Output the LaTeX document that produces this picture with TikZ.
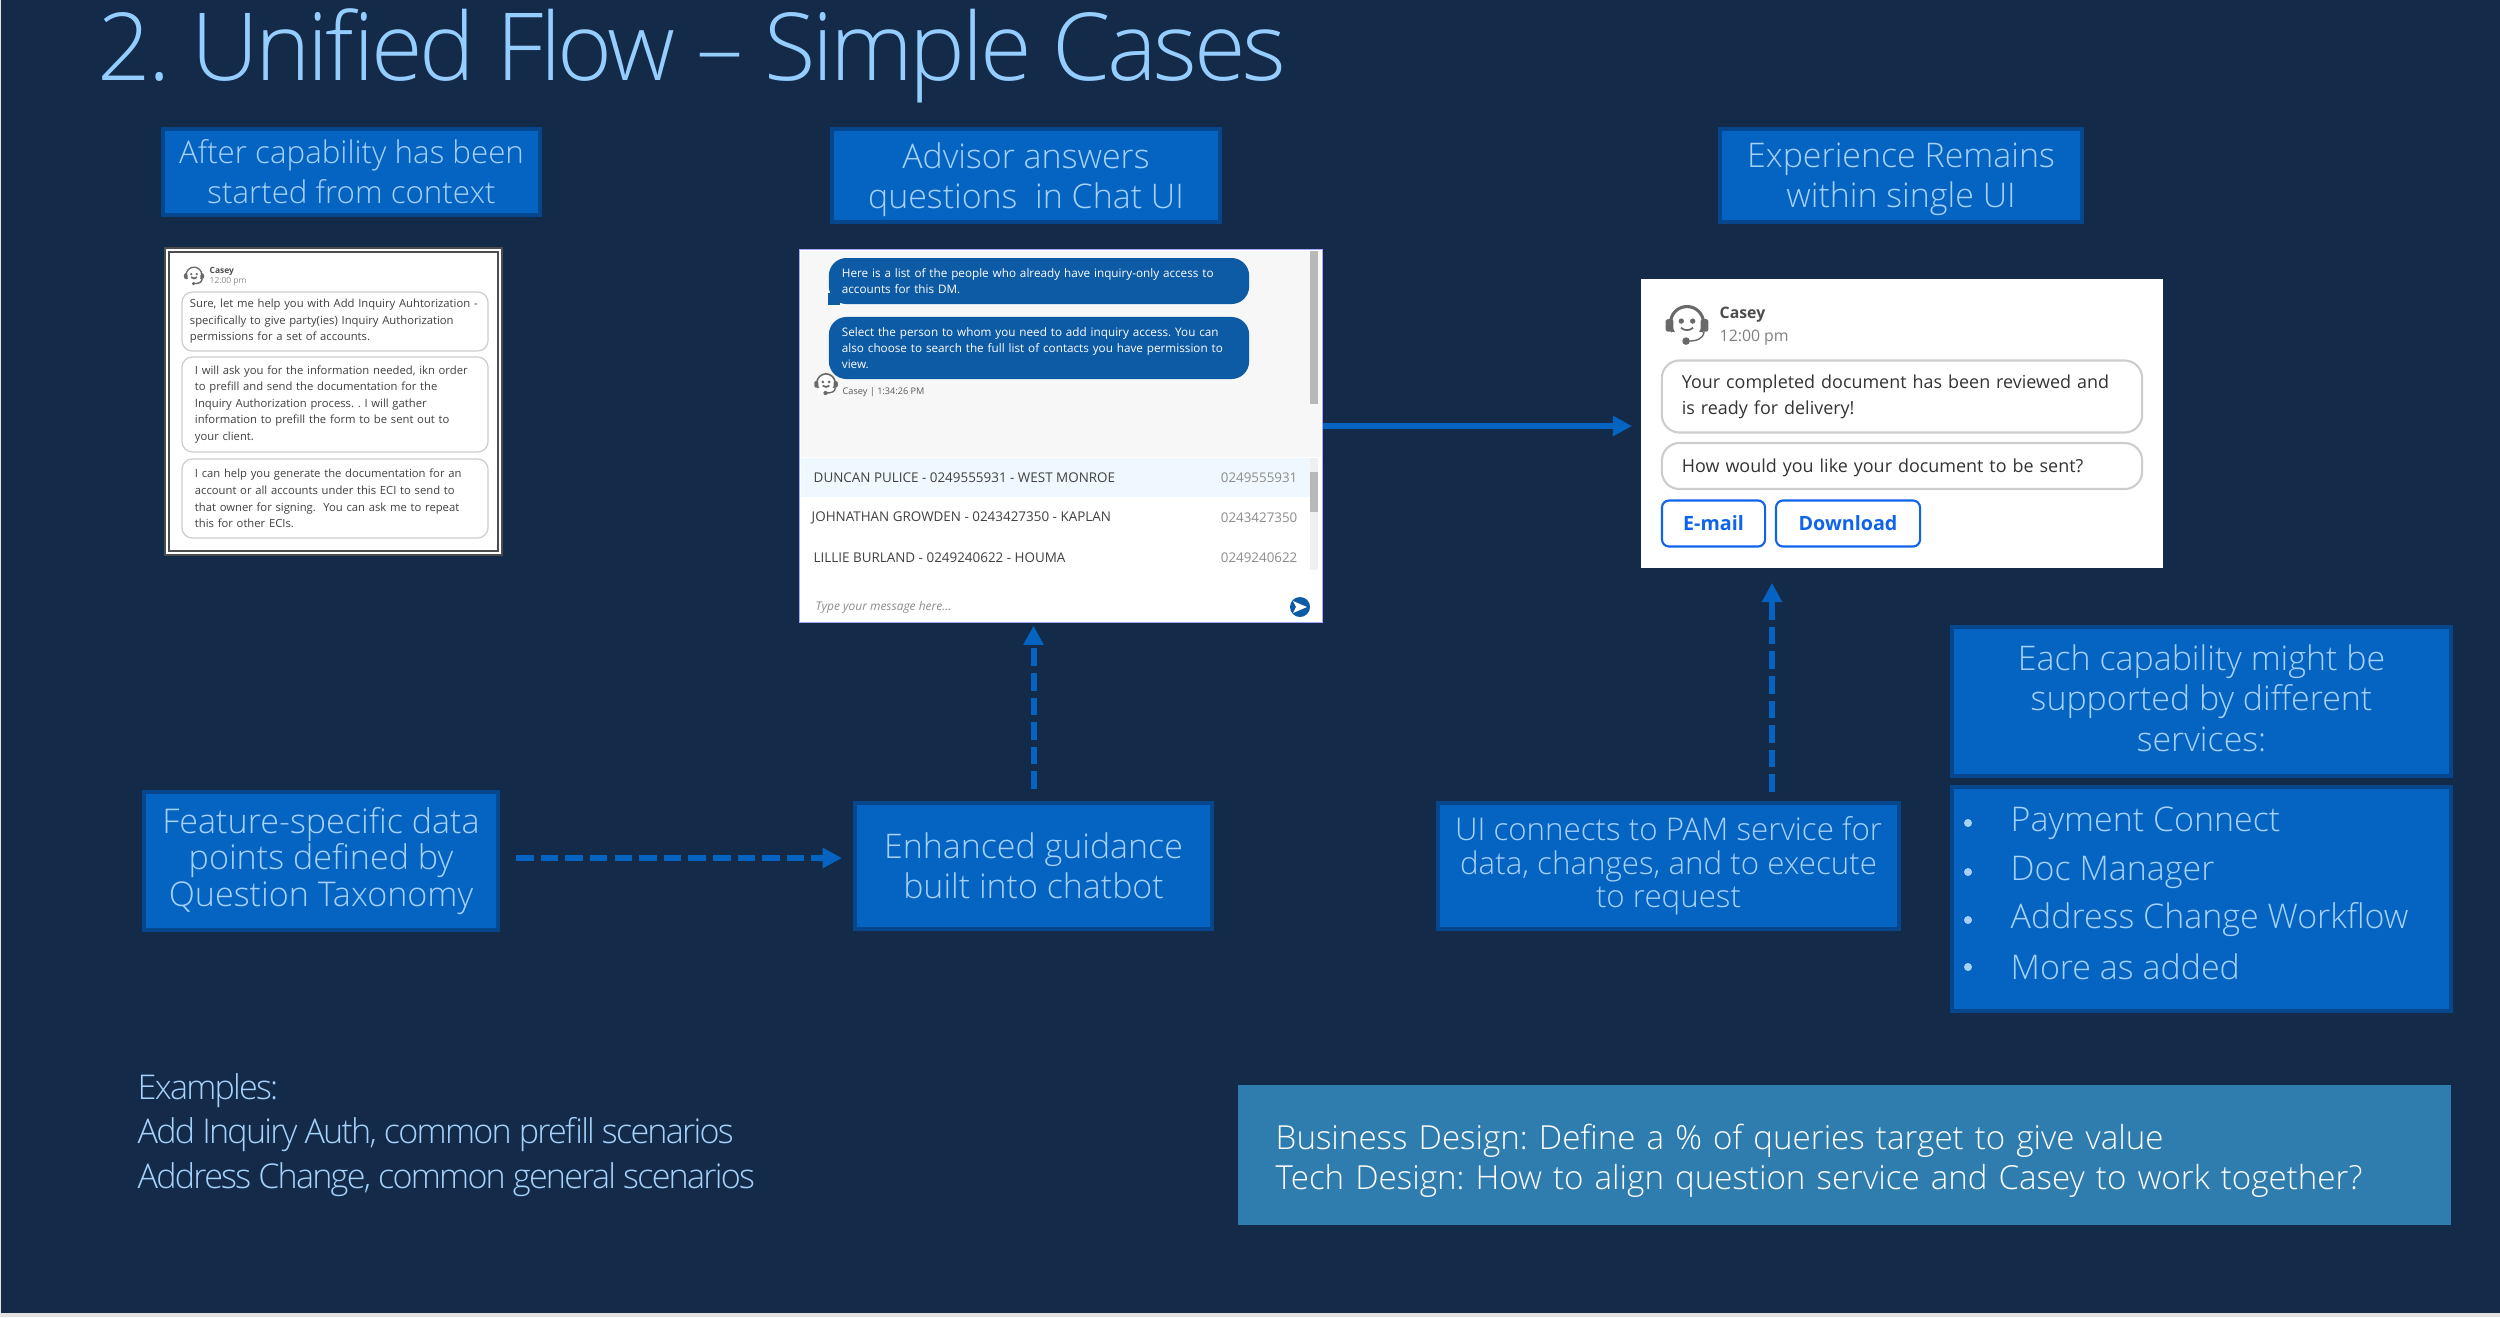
\documentclass[tikz,border=0pt]{standalone}
\usepackage{fontspec}
\setmainfont{Open Sans}[UprightFont=* Light]
\newfontfamily\uifont{Open Sans}
\newfontfamily\tightfont{Open Sans}[UprightFont=* Light,LetterSpace=-5.2]
\newfontfamily\titlefont{Open Sans}[UprightFont=* Light,LetterSpace=-3.6]
\frenchspacing
\usetikzlibrary{arrows.meta,positioning}
\definecolor{slidebg}{RGB}{19,42,73}
\definecolor{slideedge}{RGB}{226,226,226}
\definecolor{boxblue}{RGB}{5,99,193}
\definecolor{boxedge}{RGB}{6,70,140}
\definecolor{boxtext}{RGB}{165,210,250}
\definecolor{titletext}{RGB}{150,205,255}
\definecolor{notefill}{RGB}{47,125,175}
\definecolor{bubbleblue}{RGB}{13,90,165}
\definecolor{rowblue}{RGB}{240,248,255}
\definecolor{uigrey}{RGB}{105,105,105}
\definecolor{uiline}{RGB}{205,205,205}
\definecolor{linkblue}{RGB}{15,100,235}
\tikzset{
 bluebox/.style={draw=boxedge,line width=1.1pt,fill=boxblue,text=boxtext,align=center,inner sep=0pt,font=\fontsize{9.65}{11.3}\selectfont},
 shot/.style={fill=white,inner sep=0pt},
 bubble/.style={draw=uiline,fill=white,rounded corners=3pt,inner ysep=0pt,line width=.35pt,align=left,text=black!75},
 bubblelarge/.style={bubble,line width=.6pt,rounded corners=5pt,minimum width=4.8cm,inner xsep=.2cm,text width=4.4cm,text=black!80},
 chatblue/.style={fill=bubbleblue,rounded corners=5pt,inner ysep=0pt,inner xsep=.13cm,text width=3.94cm,align=left,text=white,font=\uifont\fontsize{3.33}{4.65}\selectfont},
 choice/.style={draw=linkblue,rounded corners=2pt,line width=.6pt,fill=white,text=linkblue,inner sep=0pt,minimum height=.46cm,font=\uifont\bfseries\fontsize{5.6}{5.6}\selectfont},
 flow/.style={-{Triangle[length=5.5pt,width=5.5pt]},draw=boxblue,line width=1.7pt},
 flowdash/.style={flow,dash pattern=on 5pt off 2pt},
 rowtext/.style={anchor=west,inner sep=0pt,text=black!75,font=\uifont\fontsize{3.82}{3.82}\selectfont},
 rownum/.style={anchor=east,inner sep=0pt,text=black!45,font=\uifont\fontsize{3.8}{3.8}\selectfont},
 caseyicon/.pic={
  \fill[uigrey] (0,0) circle[radius=.95];
  \fill[white] (0,0) circle[radius=.78];
  \fill[white] (-.8,.45) rectangle (.8,1);
  \fill[uigrey] (-.3,-.1) circle[radius=.14] (.3,-.1) circle[radius=.14];
  \draw[uigrey,line width=.5pt] (-.32,.25) .. controls (-.1,.42) and (.1,.42) .. (.32,.25);
  \fill[uigrey,rounded corners=.6pt] (-1.12,-.2) rectangle (-.72,.45) (1.12,-.2) rectangle (.72,.45);
  \draw[uigrey,line width=.4pt] (.9,.45) .. controls (.85,.85) and (.5,.95) .. (.05,.95);
  \fill[uigrey] (-.05,.95) circle[radius=.2];
 },
}
\begin{document}
\begin{tikzpicture}[x=0.01cm,y=-0.01cm,>=Latex]
 \useasboundingbox (0,0) rectangle (2500,1317);
 \fill[slideedge] (0,0) rectangle (2500,1317);
 \fill[slidebg] (1,0) rectangle (2500,1313);
 \node[anchor=base west,inner sep=0pt,text=titletext,font=\titlefont\fontsize{26.7}{26.7}\selectfont] (title) at (97,80) {2. Unified Flow – Simple Cases};
 % headings
 \node[bluebox,minimum width=3.77cm,minimum height=.86cm,font=\fontsize{8.9}{11.3}\selectfont] (context) at (351.5,172) {After capability has been\\started from context};
 \node[bluebox,text depth=0pt,minimum width=3.88cm,minimum height=.93cm] (advisor) at (1026,175.5) {Advisor answers\\questions\ \ in Chat UI};
 \node[bluebox,text depth=0pt,minimum width=3.62cm,minimum height=.93cm] (remains) at (1901,175.5) {Experience Remains\\within single UI};
 % first screenshot
 \node[shot,draw=black!70,double=white,double distance=.6pt,line width=.5pt,minimum width=3.33cm,minimum height=3.03cm] (startshot) at (333.5,401.5) {};
 \pic[scale=9] at (194,275) {caseyicon};
 \node[anchor=west,inner sep=0pt,text=black!70,font=\uifont\bfseries\fontsize{2.4}{2.4}\selectfont] (startname) at (209,271) {Casey};
 \node[anchor=west,inner sep=0pt,text=black!45,font=\uifont\fontsize{2.4}{2.4}\selectfont] (starttime) at (209,281) {12:00 pm};
 \node[bubble,inner xsep=.08cm,text width=2.9cm,minimum height=.59cm,font=\uifont\fontsize{3.2}{4.7}\selectfont] (startone) at (335,321.5) {Sure, let me help you with Add Inquiry Auhtorization -\\specifically to give party(ies) Inquiry Authorization\\permissions for a set of accounts.};
 \node[bubble,inner xsep=.13cm,text width=2.8cm,minimum height=.95cm,font=\uifont\fontsize{3.2}{4.7}\selectfont] (starttwo) at (335,404.5) {I will ask you for the information needed, ikn order\\to prefill and send the documentation for the\\Inquiry Authorization process. . I will gather\\information to prefill the form to be sent out to\\your client.};
 \node[bubble,inner xsep=.13cm,text width=2.8cm,minimum height=.79cm,font=\uifont\fontsize{3.2}{4.7}\selectfont] (startthree) at (335,498.5) {I can help you generate the documentation for an\\account or all accounts under this ECI to send to\\that owner for signing.\ \ You can ask me to repeat\\this for other ECIs.};
 % chat screenshot
 \node[shot,draw=blue!35!white,line width=.3pt,minimum width=5.22cm,minimum height=3.72cm] (chatshot) at (1061,436) {};
 \fill[black!3] (801,251) rectangle (1321,457);
 \fill[black!28] (1310,251) rectangle (1318,404);
 \node[chatblue,minimum height=.46cm] (chatone) at (1039,281) {Here is a list of the people who already have inquiry-only access to\\accounts for this DM.};
 \fill[bubbleblue] (chatone.south west) rectangle ++(12,-12);
 \node[chatblue,minimum height=.62cm] (chattwo) at (1039,348) {Select the person to whom you need to add inquiry access. You can\\also choose to search the full list of contacts you have permission to\\view.};
 \pic[scale=10.5] at (826,383) {caseyicon};
 \node[anchor=west,inner sep=0pt,text=black!65,font=\uifont\fontsize{2.6}{2.6}\selectfont] (chatstamp) at (842,392) {Casey | 1:34:26 PM};
 \fill[rowblue] (801,458) rectangle (1310,497);
 \fill[black!6] (1310,458) rectangle (1318,570);
 \fill[black!28] (1310,472) rectangle (1318,512);
 \node[rowtext] (rowduncan) at (813,478) {DUNCAN PULICE - 0249555931 - WEST MONROE};
 \node[rownum] (numduncan) at (1298,478) {0249555931};
 \node[rowtext] (rowjohnathan) at (811,518) {JOHNATHAN GROWDEN - 0243427350 - KAPLAN};
 \node[rownum] (numjohnathan) at (1298,518) {0243427350};
 \node[rowtext] (rowlillie) at (813,558) {LILLIE BURLAND - 0249240622 - HOUMA};
 \node[rownum] (numlillie) at (1298,558) {0249240622};
 \node[anchor=west,inner sep=0pt,text=black!45,font=\uifont\itshape\fontsize{3.4}{3.4}\selectfont] (typehere) at (815,607) {Type your message here...};
 \fill[bubbleblue] (1300,607) circle[radius=10];
 \fill[white] (1293,601) -- (1307,607) -- (1293,613) -- (1296,607) -- cycle;
 % delivery screenshot
 \node[shot,minimum width=5.22cm,minimum height=2.89cm] (deliveryshot) at (1902,423.5) {};
 \pic[scale=19] at (1687,323) {caseyicon};
 \node[anchor=west,inner sep=0pt,text=black!70,font=\uifont\bfseries\fontsize{4.5}{4.5}\selectfont] (deliveryname) at (1719,315) {Casey};
 \node[anchor=west,inner sep=0pt,text=black!50,font=\uifont\fontsize{4.5}{4.5}\selectfont] (deliverytime) at (1719,338) {12:00 pm};
 \node[bubblelarge,minimum height=.72cm,font=\uifont\fontsize{5.1}{7.45}\selectfont] (reviewed) at (1902,396.5) {Your completed document has been reviewed and\\is ready for delivery!};
 \node[bubblelarge,text depth=0pt,minimum height=.46cm,font=\uifont\fontsize{5.1}{5.1}\selectfont] (howsent) at (1902,466) {How would you like your document to be sent?};
 \node[choice,minimum width=1.03cm] (email) at (1713.5,523.5) {E-mail};
 \node[choice,minimum width=1.44cm] (download) at (1848,523.5) {Download};
 % lower row
 \node[bluebox,minimum width=3.54cm,minimum height=1.38cm,font=\fontsize{9.7}{10.4}\selectfont] (feature) at (321,861) {Feature-specific data\\points defined by\\Question Taxonomy};
 \node[bluebox,minimum width=3.57cm,minimum height=1.26cm] (guidance) at (1033.5,866) {Enhanced guidance\\built into chatbot};
 \node[bluebox,minimum width=4.61cm,minimum height=1.26cm,font=\fontsize{8.9}{9.5}\selectfont] (connects) at (1668.5,866) {UI connects to PAM service for\\data, changes, and to execute\\to request};
 \node[bluebox,text depth=2pt,minimum width=4.99cm,minimum height=1.49cm,font=\fontsize{9.65}{11.5}\selectfont] (services) at (2201.5,701.5) {Each capability might be\\supported by different\\services:};
 \node[bluebox,minimum width=4.99cm,minimum height=2.24cm] (servicelist) at (2201.5,899) {};
 \foreach \y/\item in {823/Payment Connect,872/Doc Manager,920/Address Change Workflow,967/More as added}{
  \fill[boxtext] (1968,\y) circle[radius=4];
  \node[anchor=west,inner sep=0pt,text=boxtext,font=\fontsize{9.66}{9.66}\selectfont] (service\y) at (2010,\y) {\item};
 }
 \node[anchor=west,inner sep=0pt,align=left,text=boxtext,font=\tightfont\fontsize{9.7}{12.6}\selectfont] (examples) at (137,1135) {Examples:\\Add Inquiry Auth, common prefill scenarios\\Address Change, common general scenarios};
 \node[fill=notefill,anchor=north west,inner ysep=0pt,inner xsep=.38cm,minimum width=12.13cm,minimum height=1.4cm,text width=11.37cm,align=left,text=white,font=\fontsize{9.42}{11.3}\selectfont] (design) at (1237,1084) {\rule{0pt}{10.5pt}Business Design: Define a \% of queries target to give value\\Tech Design: How to align question service and Casey to work together?};
 % connectors
 \coordinate (connectstop) at (1772,803);
 \draw[flow,shorten >=.08cm] (chatshot.east|-0,426) -- (deliveryshot.west|-0,426);
 \draw[flowdash,shorten <=.16cm,shorten >=.11cm] (feature.east|-0,858) -- (guidance.west|-0,858);
 \draw[flowdash,shorten <=.12cm,shorten >=.03cm] (guidance.north) -- (guidance.north|-chatshot.south);
 \draw[flowdash,shorten <=.11cm,shorten >=.14cm] (connectstop) -- (connectstop|-deliveryshot.south);
\end{tikzpicture}
\end{document}
